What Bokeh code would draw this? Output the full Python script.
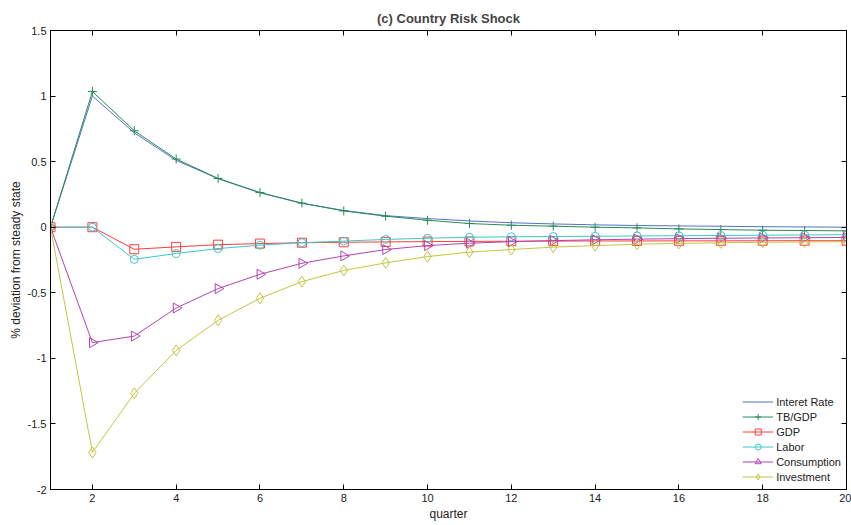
from bokeh.plotting import figure
from bokeh.models import (LinearAxis, FixedTicker, CustomJSTickFormatter, Legend,
                          LegendItem, Range1d, ColumnDataSource)
from bokeh.embed import file_html
from bokeh.resources import INLINE
import math

quarters = list(range(1, 21))
interest_rate = [0, 1.00, 0.72, 0.51, 0.37, 0.262, 0.182, 0.128, 0.088, 0.066, 0.048,
                 0.034, 0.025, 0.018, 0.013, 0.01, 0.007, 0.004, 0.002, 0.0]
tb_gdp = [0, 1.035, 0.735, 0.52, 0.372, 0.265, 0.184, 0.124, 0.084, 0.053, 0.028,
          0.015, 0.008, 0.0, -0.005, -0.013, -0.018, -0.023, -0.025, -0.028]
gdp = [0, 0, -0.168, -0.15, -0.133, -0.125, -0.118, -0.115, -0.112, -0.11, -0.108,
       -0.107, -0.106, -0.105, -0.105, -0.104, -0.104, -0.103, -0.103, -0.103]
labor = [0, 0, -0.245, -0.2, -0.163, -0.137, -0.118, -0.106, -0.093, -0.084, -0.077,
         -0.073, -0.071, -0.069, -0.067, -0.065, -0.063, -0.061, -0.059, -0.057]
consumption = [0, -0.88, -0.83, -0.616, -0.468, -0.359, -0.275, -0.219, -0.17, -0.14,
               -0.122, -0.11, -0.102, -0.096, -0.091, -0.087, -0.084, -0.082, -0.08, -0.078]
investment = [0, -1.718, -1.267, -0.939, -0.71, -0.542, -0.415, -0.33, -0.272, -0.224,
              -0.19, -0.17, -0.152, -0.14, -0.13, -0.123, -0.119, -0.115, -0.112, -0.11]

series_names = ["Interet Rate", "TB/GDP", "GDP", "Labor", "Consumption", "Investment"]
x_ticks = [2, 4, 6, 8, 10, 12, 14, 16, 18, 20]
y_ticks = [-2, -1.5, -1, -0.5, 0, 0.5, 1, 1.5]

FONT = "Liberation Sans"

p = figure(width=851, height=525, output_backend="svg", toolbar_location=None,
           x_range=Range1d(1, 20), y_range=Range1d(-2, 1.5),
           min_border_left=50, min_border_right=5, min_border_top=30, min_border_bottom=36,
           title="(c) Country Risk Shock")
p.title.align = "center"
p.title.text_font = FONT
p.title.text_font_size = "13px"
p.title.text_font_style = "bold"
p.title.standoff = 9
p.grid.visible = False
p.outline_line_color = "black"
p.background_fill_color = "white"
p.border_fill_color = "white"

fmt = CustomJSTickFormatter(code="return tick.toString();")

for ax in p.xaxis:
    ax.ticker = FixedTicker(ticks=x_ticks)
    ax.formatter = fmt
    ax.axis_label = "quarter"
for ax in p.yaxis:
    ax.ticker = FixedTicker(ticks=y_ticks)
    ax.formatter = fmt
    ax.axis_label = "% deviation from steady state"

for ax in p.xaxis + p.yaxis:
    ax.major_tick_in = 5
    ax.major_tick_out = 0
    ax.minor_tick_line_color = None
    ax.major_label_text_font = FONT
    ax.major_label_text_font_size = "11px"
    ax.major_label_text_color = "#222222"
    ax.axis_label_text_font = FONT
    ax.axis_label_text_font_size = "12px"
    ax.axis_label_text_font_style = "normal"
    ax.axis_label_text_color = "#222222"
    ax.axis_line_color = "black"
    ax.major_tick_line_color = "black"
    ax.major_label_standoff = 4
    ax.axis_label_standoff = 2

top = LinearAxis(ticker=FixedTicker(ticks=x_ticks), major_tick_in=5, major_tick_out=0,
                 minor_tick_line_color=None, major_label_text_color=None,
                 major_label_text_font_size="1px",
                 major_label_standoff=0, axis_line_color="black")
right = LinearAxis(ticker=FixedTicker(ticks=y_ticks), major_tick_in=5, major_tick_out=0,
                   minor_tick_line_color=None, major_label_text_color=None,
                   major_label_text_font_size="1px",
                   major_label_standoff=0, axis_line_color="black")
p.add_layout(top, "above")
p.add_layout(right, "right")

src = ColumnDataSource(dict(q=quarters, ir=interest_rate, tb=tb_gdp, gdp=gdp,
                            lab=labor, con=consumption, inv=investment))

colors = ["#5572c4", "#2a8a58", "#ff3c3c", "#3cc8c8", "#b044b0", "#c4c440"]
items = []

r = p.line("q", "ir", source=src, line_color=colors[0], line_width=1)
items.append(LegendItem(label=series_names[0], renderers=[r]))

specs = [("tb", "cross", 9, 0), ("gdp", "square", 9, 0), ("lab", "circle", 8, 0),
         ("con", "triangle", 10, -math.pi / 2), ("inv", "diamond", 11, 0)]
for i, (col, mk, sz, ang) in enumerate(specs, start=1):
    rl = p.line("q", col, source=src, line_color=colors[i], line_width=1)
    rs = p.scatter("q", col, source=src, marker=mk, size=sz, angle=ang,
                   line_color=colors[i], fill_alpha=0, line_width=1)
    items.append(LegendItem(label=series_names[i], renderers=[rl, rs]))

legend = Legend(items=items, location="bottom_right", border_line_alpha=0,
                background_fill_alpha=0, label_text_font=FONT,
                label_text_font_size="11px", label_text_color="#222222",
                glyph_width=31, glyph_height=15, label_height=15, spacing=0,
                label_standoff=3, padding=3, margin=2)
p.add_layout(legend)

open("out.html", "w").write(file_html(p, INLINE))
